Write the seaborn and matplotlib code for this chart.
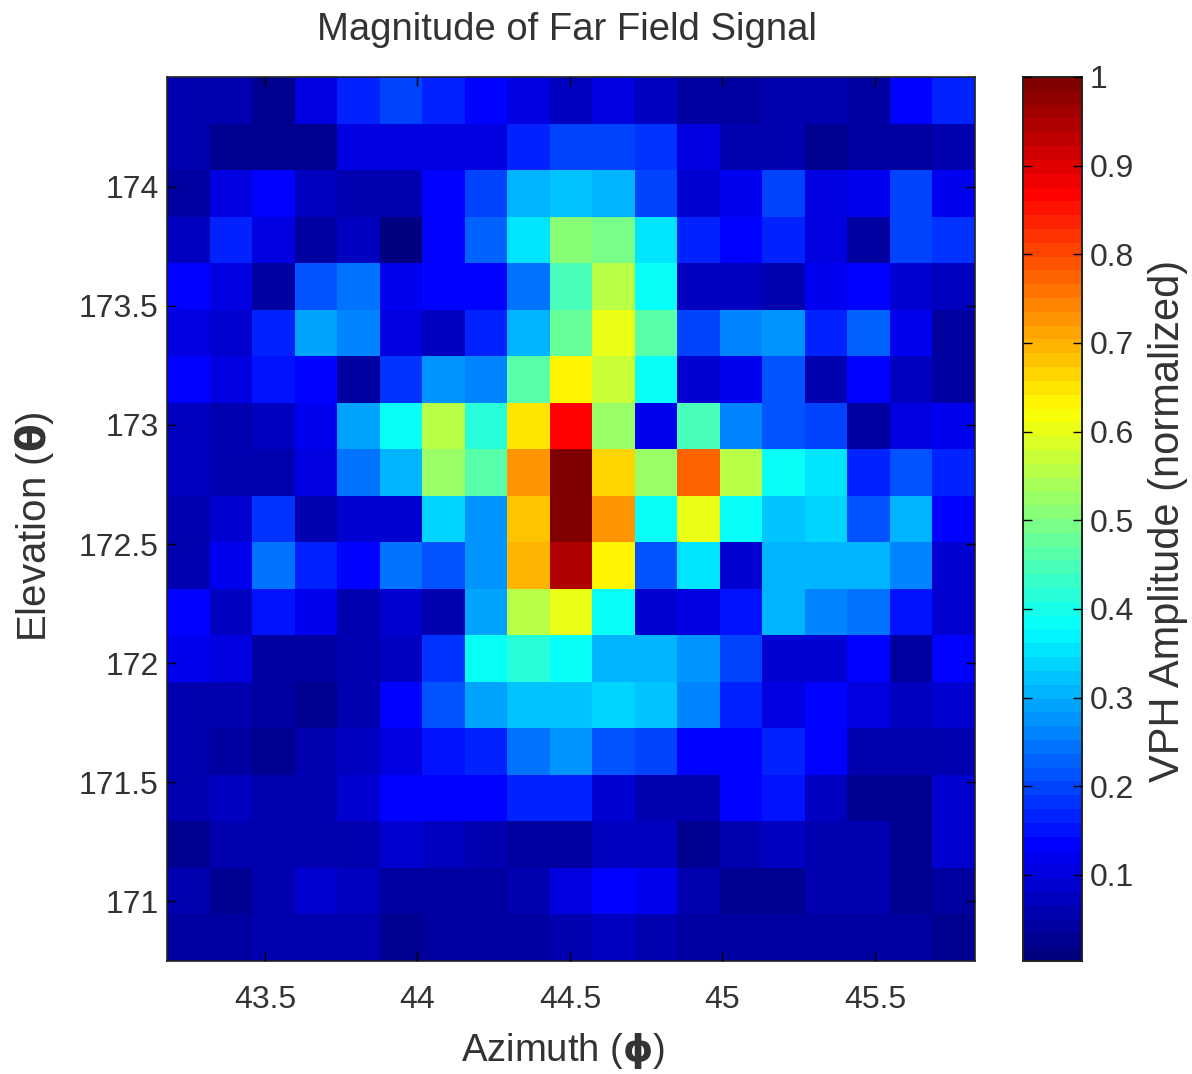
import numpy as np
import matplotlib
matplotlib.use("Agg")
import matplotlib.pyplot as plt
from matplotlib.colors import LinearSegmentedColormap
import seaborn as sns

# amplitude rows, top (high elevation) to bottom
row_00 = [.06, .05, .03, .10, .17, .20, .17, .13, .11, .08, .10, .08, .045, .045, .06, .05, .045, .13, .17]
row_01 = [.06, .02, .02, .02, .10, .11, .11, .11, .16, .19, .19, .18, .10, .05, .06, .02, .04, .04, .05]
row_02 = [.035, .10, .13, .08, .055, .065, .13, .20, .30, .33, .30, .20, .085, .12, .19, .11, .12, .20, .12]
row_03 = [.08, .17, .11, .045, .07, .01, .13, .23, .36, .51, .50, .35, .16, .13, .16, .11, .035, .20, .18]
row_04 = [.13, .11, .04, .21, .25, .12, .13, .14, .25, .44, .55, .39, .08, .075, .055, .12, .13, .09, .07]
row_05 = [.10, .09, .17, .29, .26, .10, .07, .16, .30, .48, .61, .46, .19, .26, .27, .17, .23, .12, .04]
row_06 = [.13, .10, .15, .13, .035, .18, .28, .26, .47, .63, .57, .38, .09, .12, .21, .05, .13, .08, .04]
row_07 = [.08, .065, .08, .12, .29, .39, .55, .42, .65, .86, .52, .12, .44, .26, .22, .20, .04, .105, .12]
row_08 = [.08, .065, .055, .10, .25, .30, .52, .46, .72, 1.0, .66, .52, .78, .55, .38, .35, .16, .22, .16]
row_09 = [.055, .095, .18, .05, .09, .09, .34, .27, .68, 1.0, .73, .39, .60, .39, .32, .34, .22, .30, .13]
row_10 = [.06, .12, .25, .17, .13, .24, .21, .27, .70, .94, .64, .22, .35, .09, .30, .30, .30, .26, .09]
row_11 = [.13, .08, .15, .12, .05, .09, .06, .29, .56, .61, .38, .09, .10, .15, .30, .26, .24, .15, .095]
row_12 = [.12, .11, .04, .04, .06, .08, .18, .38, .42, .39, .30, .31, .27, .20, .09, .09, .13, .04, .13]
row_13 = [.05, .06, .04, .025, .06, .13, .21, .29, .32, .32, .34, .32, .26, .17, .10, .13, .10, .07, .095]
row_14 = [.05, .035, .02, .06, .08, .11, .15, .17, .24, .27, .22, .19, .14, .13, .16, .14, .06, .06, .055]
row_15 = [.05, .07, .06, .06, .09, .14, .14, .14, .17, .16, .09, .06, .06, .13, .15, .08, .02, .02, .09]
row_16 = [.02, .06, .06, .05, .06, .09, .08, .055, .04, .04, .08, .08, .02, .06, .07, .06, .05, .02, .09]
row_17 = [.05, .02, .055, .085, .075, .04, .04, .04, .055, .10, .13, .12, .05, .02, .03, .06, .06, .02, .045]
row_18 = [.04, .04, .06, .065, .06, .03, .045, .045, .045, .065, .07, .05, .035, .035, .04, .045, .045, .045, .03]

az_ticks = [43.5, 44, 44.5, 45, 45.5]
az_labels = ["43.5", "44", "44.5", "45", "45.5"]
el_ticks = [174, 173.5, 173, 172.5, 172, 171.5, 171]
el_labels = ["174", "173.5", "173", "172.5", "172", "171.5", "171"]
cbar_ticks = [.1, .2, .3, .4, .5, .6, .7, .8, .9, 1]
cbar_labels = ["0.1", "0.2", "0.3", "0.4", "0.5", "0.6", "0.7", "0.8", "0.9", "1"]

az_lim = (43.179, 45.828)
el_lim = (174.46, 170.75)

amp = np.array([row_00, row_01, row_02, row_03, row_04, row_05, row_06, row_07, row_08, row_09,
                row_10, row_11, row_12, row_13, row_14, row_15, row_16, row_17, row_18])

sns.set_style("white")
plt.rcParams['font.family'] = ['Liberation Sans', 'DejaVu Sans']
plt.rcParams['mathtext.fontset'] = 'dejavusans'
plt.rcParams['axes.axisbelow'] = False

# MATLAB style jet, 64 levels
jet64 = LinearSegmentedColormap.from_list("jet64", [
    (0, (0, 0, .5)), (.125, (0, 0, 1)), (.375, (0, 1, 1)), (.625, (1, 1, 0)),
    (.875, (1, 0, 0)), (1, (.5, 0, 0))], N=64)

W, H = 1192, 1074
fig = plt.figure(figsize=(W / 100, H / 100), dpi=100)
ax = fig.add_axes([167 / W, 1 - 961 / H, 808 / W, 884 / H])
cax = fig.add_axes([1023 / W, 1 - 961 / H, 59 / W, 884 / H])

sns.heatmap(amp, ax=ax, cbar_ax=cax, cmap=jet64, vmin=.003, vmax=1, linewidths=0,
            xticklabels=False, yticklabels=False)

n_rows, n_cols = amp.shape
ax.set_xticks([(t - az_lim[0]) / (az_lim[1] - az_lim[0]) * n_cols for t in az_ticks])
ax.set_xticklabels(az_labels, rotation=0)
ax.set_yticks([(t - el_lim[0]) / (el_lim[1] - el_lim[0]) * n_rows for t in el_ticks])
ax.set_yticklabels(el_labels, rotation=0)
ax.tick_params(axis="x", direction="in", length=6.5, width=1, color="black", labelsize=23, labelcolor="#333333",
               top=True, bottom=True, pad=17)
ax.tick_params(axis="y", direction="in", length=6.5, width=1, color="black", labelsize=23, labelcolor="#333333",
               left=True, right=True, pad=6)
ax.set_axisbelow(False)
for s in ax.spines.values():
    s.set_visible(True)
    s.set_color("#222222")
    s.set_linewidth(1.2)

cax.set_yticks(cbar_ticks)
cax.set_yticklabels(cbar_labels)
cax.tick_params(axis="y", direction="in", length=6.5, width=1, color="black", labelsize=23, labelcolor="#333333",
                left=True, right=True, labelright=True, labelleft=False, pad=5.5)
cax.set_axisbelow(False)
for s in cax.spines.values():
    s.set_visible(True)
    s.set_color("#222222")
    s.set_linewidth(1.2)

fig.text(567 / W, 1 - 30 / H, "Magnitude of Far Field Signal", fontsize=27.5, color="#333333", ha="center", va="center")
fig.text(563 / W, 1 - 1051 / H, r"Azimuth ($\mathbf{\phi}$)", fontsize=27.5, color="#333333", ha="center", va="center")
fig.text(35 / W, 1 - 527 / H, r"Elevation ($\mathbf{\theta}$)", fontsize=29, color="#333333", rotation=90, ha="center", va="center")
fig.text(1168 / W, 1 - 521 / H, "VPH Amplitude (normalized)", fontsize=30, color="#333333", rotation=90, ha="center", va="center")

fig.savefig("out.png", dpi=100)
